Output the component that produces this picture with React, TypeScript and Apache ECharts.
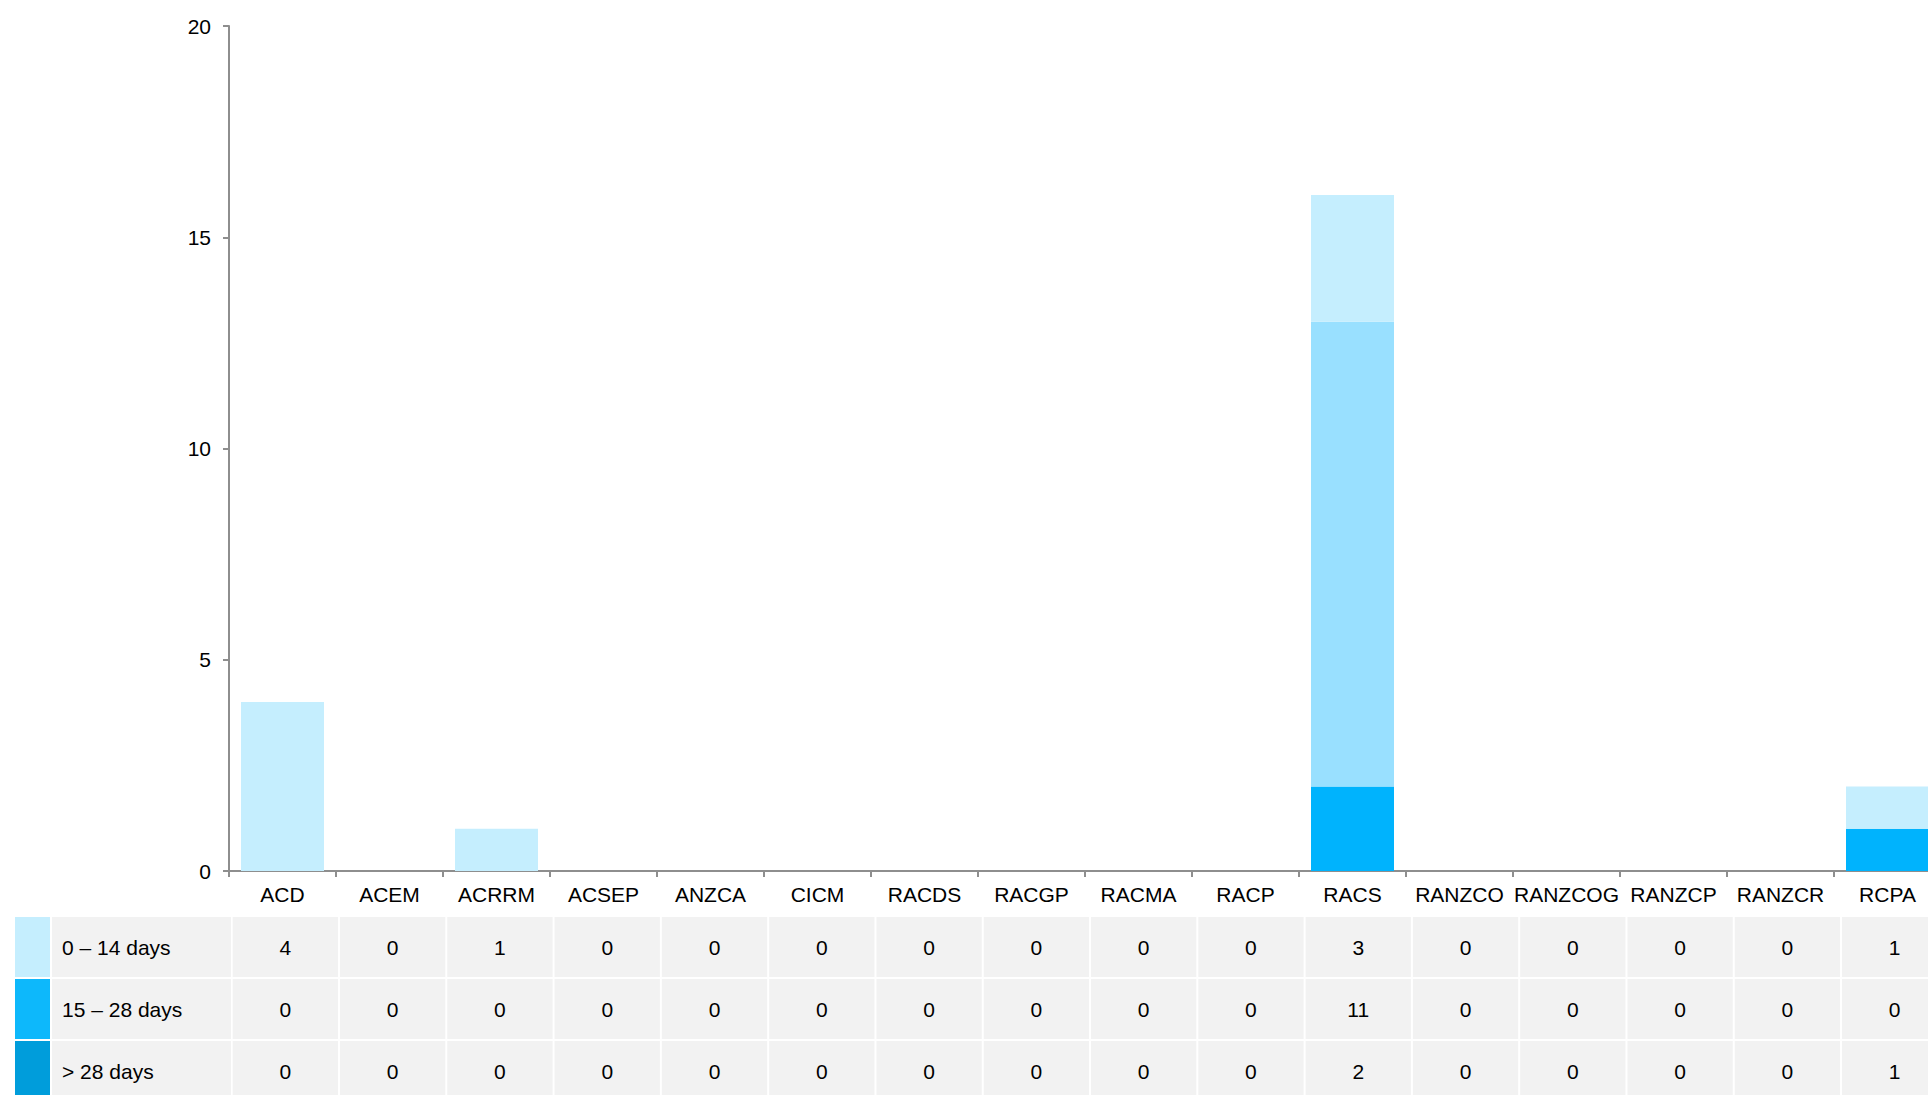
import React, { useEffect, useRef } from "react";
import * as echarts from "echarts";

const categories = [
  "ACD", "ACEM", "ACRRM", "ACSEP", "ANZCA", "CICM", "RACDS", "RACGP",
  "RACMA", "RACP", "RACS", "RANZCO", "RANZCOG", "RANZCP", "RANZCR", "RCPA",
];
const seriesNames = ["0 – 14 days", "15 – 28 days", "> 28 days"];
const days0to14 = [4, 0, 1, 0, 0, 0, 0, 0, 0, 0, 3, 0, 0, 0, 0, 1];
const days15to28 = [0, 0, 0, 0, 0, 0, 0, 0, 0, 0, 11, 0, 0, 0, 0, 0];
const daysOver28 = [0, 0, 0, 0, 0, 0, 0, 0, 0, 0, 2, 0, 0, 0, 0, 1];
const yTicks = { min: 0, max: 20, interval: 5 };

const barColors = ["#C5EEFE", "#99E0FF", "#00B3FD"];
const swatchColors = ["#C5EEFE", "#0DB8FB", "#009DDB"];

const FONT = "'Liberation Sans', Arial, Helvetica, sans-serif";

export default function App() {
  const ref = useRef<HTMLDivElement>(null);
  useEffect(() => {
    if (!ref.current) return;
    const chart = echarts.init(ref.current, null, { renderer: "svg" });
    const rows = [days0to14, days15to28, daysOver28];

    // table layout
    const tableTop = 917;
    const rowPitch = 62;
    const rowH = 60;
    const cellX0 = 232.7;
    const cellPitch = 107.29;
    const cellW = 105.3;
    const graphics: any[] = [];
    rows.forEach((vals, r) => {
      const y = tableTop + r * rowPitch;
      graphics.push({
        type: "rect",
        shape: { x: 15, y, width: 35, height: rowH },
        style: { fill: swatchColors[r] },
        silent: true,
      });
      graphics.push({
        type: "rect",
        shape: { x: 52, y, width: 179, height: rowH },
        style: { fill: "#F2F2F2" },
        silent: true,
      });
      graphics.push({
        type: "text",
        x: 62,
        y: y + rowH / 2,
        style: {
          text: seriesNames[r],
          fill: "#000",
          font: `21px ${FONT}`,
          verticalAlign: "middle",
        },
        silent: true,
      });
      vals.forEach((v, i) => {
        const x = cellX0 + i * cellPitch;
        graphics.push({
          type: "rect",
          shape: { x, y, width: cellW, height: rowH },
          style: { fill: "#F2F2F2" },
          silent: true,
        });
        graphics.push({
          type: "text",
          x: x + cellW / 2,
          y: y + rowH / 2,
          style: {
            text: String(v),
            fill: "#000",
            font: `21px ${FONT}`,
            align: "center",
            verticalAlign: "middle",
          },
          silent: true,
        });
      });
    });

    const stackOrder = [2, 1, 0];
    chart.setOption({
      animation: false,
      backgroundColor: "#fff",
      textStyle: { fontFamily: FONT },
      grid: { left: 229, top: 26, bottom: 224, right: 0, containLabel: false },
      xAxis: {
        type: "category",
        data: categories,
        boundaryGap: true,
        axisLine: { lineStyle: { color: "#8E8E8E", width: 2 } },
        axisTick: { show: true, length: 6, lineStyle: { color: "#8E8E8E", width: 2 } },
        axisLabel: { color: "#000", fontSize: 21, fontFamily: FONT, margin: 13, interval: 0 },
      },
      yAxis: {
        type: "value",
        min: yTicks.min,
        max: yTicks.max,
        interval: yTicks.interval,
        axisLine: { show: true, lineStyle: { color: "#8E8E8E", width: 2 } },
        axisTick: { show: true, length: 6, lineStyle: { color: "#8E8E8E", width: 2 } },
        splitLine: { show: false },
        axisLabel: { color: "#000", fontSize: 21, fontFamily: FONT, margin: 18 },
      },
      series: stackOrder.map((r) => ({
        name: seriesNames[r],
        type: "bar",
        stack: "total",
        data: rows[r],
        barWidth: 83,
        itemStyle: { color: barColors[r] },
        emphasis: { disabled: true },
      })),
      graphic: graphics,
    });
    return () => chart.dispose();
  }, []);
  return (
    <div
      style={{
        position: "absolute",
        left: 0,
        top: 0,
        width: 1928,
        height: 1095,
        overflow: "hidden",
        background: "#fff",
      }}
    >
      <div ref={ref} style={{ width: 1941, height: 1095 }} />
    </div>
  );
}
